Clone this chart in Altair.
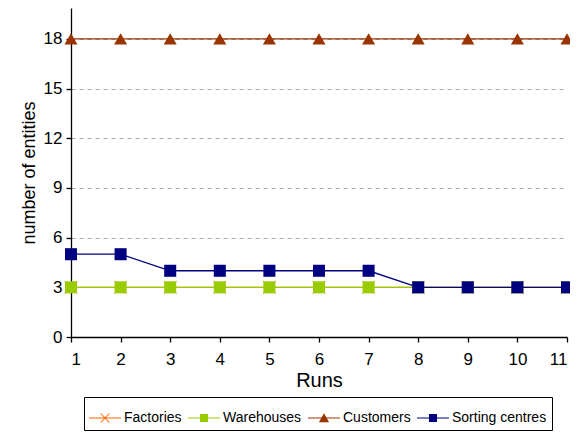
import altair as alt
import pandas as pd

runs = [1, 2, 3, 4, 5, 6, 7, 8, 9, 10, 11]
factories = [3, 3, 3, 3, 3, 3, 3, 3, 3, 3, 3]
warehouses = [3, 3, 3, 3, 3, 3, 3, 3, 3, 3, 3]
customers = [18, 18, 18, 18, 18, 18, 18, 18, 18, 18, 18]
sorting_centres = [5, 5, 4, 4, 4, 4, 4, 3, 3, 3, 3]

series_names = ["Factories", "Warehouses", "Customers", "Sorting centres"]
series_colors = ["#FF6600", "#99CC00", "#993300", "#000080"]
y_ticks = [0, 3, 6, 9, 12, 15, 18]

rows = []
for name, vals in zip(series_names, [factories, warehouses, customers, sorting_centres]):
    for r, v in zip(runs, vals):
        rows.append({"run": r, "value": v, "series": name})
df = pd.DataFrame(rows)

FONT = "Liberation Sans"

x_enc = alt.X(
    "run:Q",
    scale=alt.Scale(domain=[1, 11], nice=False, zero=False),
    axis=alt.Axis(values=runs, format="d", title="Runs", grid=False,
                  tickSize=5, labelPadding=9, labelFontSize=17,
                  titleFontSize=20, titlePadding=3),
)
y_enc = alt.Y(
    "value:Q",
    scale=alt.Scale(domain=[0, 19.87], nice=False),
    axis=alt.Axis(values=y_ticks, title="number of entities", grid=True,
                  gridDash=[4, 4], gridColor="#A6A6A6", gridWidth=1,
                  tickSize=5, labelPadding=4, labelFontSize=17,
                  titleFontSize=18, titlePadding=5),
)

# legend symbols: a short line with the marker drawn on it
LINE = "M-1,-0.035H1V0.035H-1Z"
leg_shapes = [
    LINE + "M-0.3,-0.28L-0.22,-0.28L0.3,0.28L0.22,0.28Z"
           "M0.22,-0.28L0.3,-0.28L-0.22,0.28L-0.3,0.28Z",
    LINE + "M-0.25,-0.25H0.25V0.25H-0.25Z",
    LINE + "M0,-0.3L0.32,0.26H-0.32Z",
    LINE + "M-0.25,-0.25H0.25V0.25H-0.25Z",
]

legend = alt.Legend(
    orient="none", legendX=13, legendY=389, direction="horizontal",
    title=None, strokeColor="black", fillColor="white", padding=5,
    symbolSize=1024, symbolOpacity=1, symbolStrokeWidth=0,
    labelFontSize=14, labelFont=FONT, labelColor="black",
    labelOffset=3, columnPadding=6,
)

legend_layer = alt.Chart(df).mark_point(filled=True, opacity=0).encode(
    x=x_enc, y=y_enc,
    color=alt.Color("series:N", scale=alt.Scale(domain=series_names, range=series_colors), legend=legend),
    shape=alt.Shape("series:N", scale=alt.Scale(domain=series_names, range=leg_shapes), legend=legend),
)

marker_defs = {
    "Factories": dict(shape="M-1,-1L1,1M-1,1L1,-1", filled=False, size=160, strokeWidth=1),
    "Warehouses": dict(shape="square", filled=True, size=145),
    "Customers": dict(shape="triangle-up", filled=True, size=170),
    "Sorting centres": dict(shape="square", filled=True, size=145),
}

layers = [legend_layer]
for name, col in zip(series_names, series_colors):
    base = alt.Chart(df).transform_filter(alt.datum.series == name)
    line = base.mark_line(color=col, strokeWidth=1.3).encode(x=x_enc, y=y_enc)
    pts = base.mark_point(color=col, opacity=1, **marker_defs[name]).encode(x=x_enc, y=y_enc)
    layers += [line, pts]

chart = alt.layer(*layers).properties(
    width=496, height=329,
    autosize=alt.AutoSizeParams(type="none"),
    padding={"left": 63, "top": 0, "right": 3, "bottom": 96},
    background="white",
).configure_view(stroke=None).configure_axis(
    labelFont=FONT, titleFont=FONT, labelColor="black", titleColor="black",
    domainColor="black", tickColor="black", domainWidth=1.3, tickWidth=1.3,
    titleFontWeight="normal",
)

chart.save("out.html", embed_options={"renderer": "svg", "actions": False})
